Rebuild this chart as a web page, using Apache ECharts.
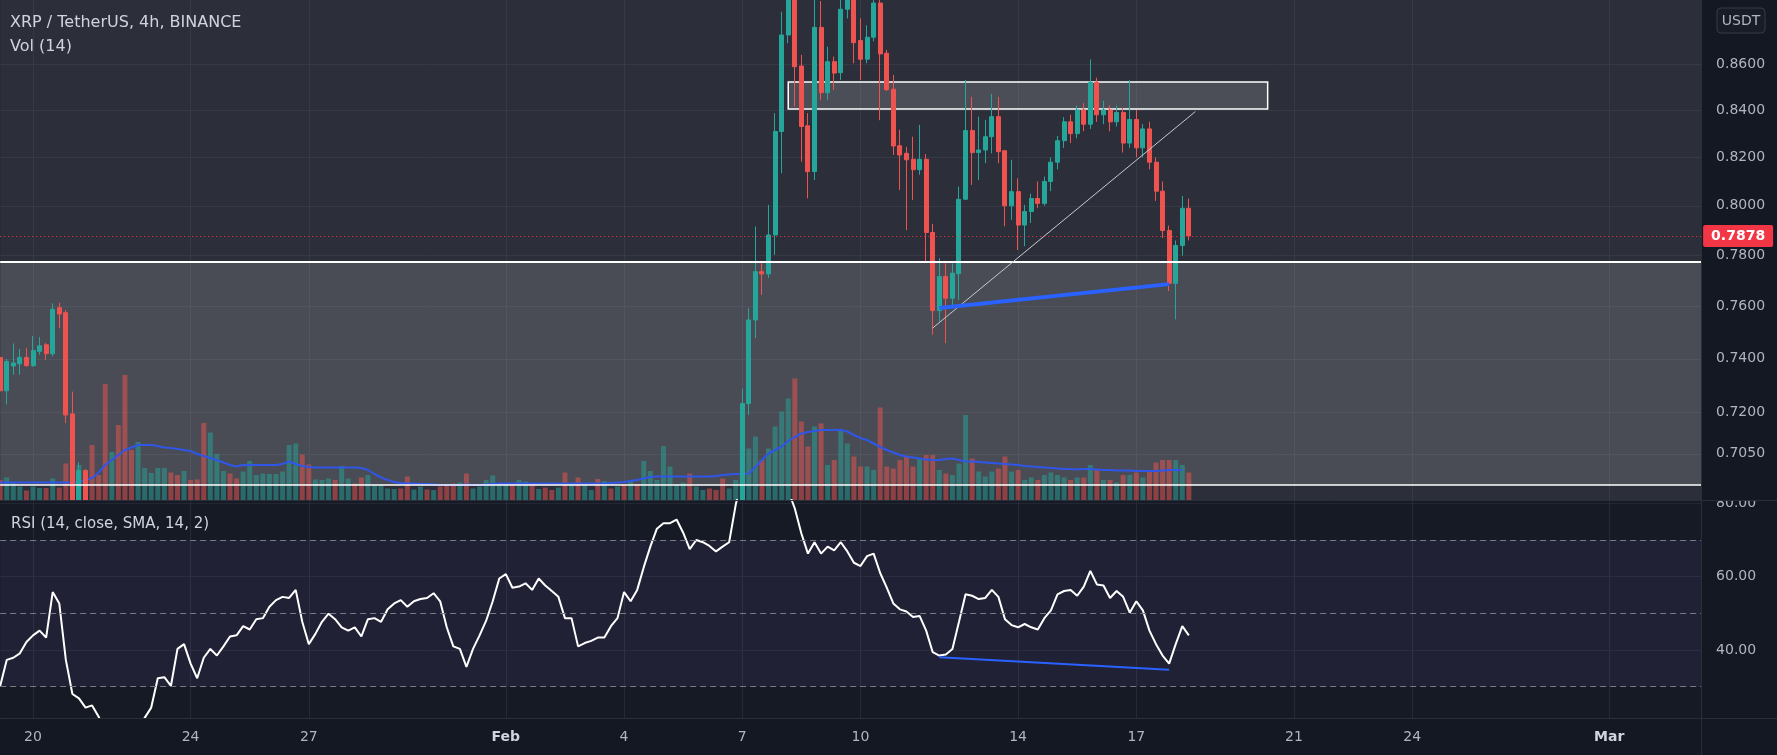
<!DOCTYPE html>
<html><head><meta charset="utf-8">
<script src="https://cdn.jsdelivr.net/npm/echarts@6/dist/echarts.min.js"></script>
<style>html,body{margin:0;padding:0;background:#141823;}#c{width:1777px;height:755px;}</style>
</head><body><div id="c"></div>
<script>
// ---------- DATA ----------
const startUTC = Date.UTC(2022, 0, 19, 4);   // first 4h slot
const slotCount = 260;
const xTickCats = ['2022-01-20 00:00','2022-01-24 00:00','2022-01-27 00:00','2022-02-01 00:00','2022-02-04 00:00','2022-02-07 00:00','2022-02-10 00:00','2022-02-14 00:00','2022-02-17 00:00','2022-02-21 00:00','2022-02-24 00:00','2022-03-01 00:00'];
const xTickLabels = ['20','24','27','Feb','4','7','10','14','17','21','24','Mar'];
const priceTicks = [0.705, 0.72, 0.74, 0.76, 0.78, 0.80, 0.82, 0.84, 0.86];
const rsiTicks = [40, 60, 80];
const priceMin = 0.6886, priceMax = 0.8885;

// [open, close, low, high]; null = candle below the visible price range
const ohlcStart = [
[0.7405,0.7280,0.7255,0.7450],[0.7280,0.7390,0.7230,0.7400],[0.7373,0.7384,0.7340,0.7458],[0.7381,0.7405,0.7340,0.7437],
[0.7405,0.7374,0.7370,0.7441],[0.7374,0.7431,0.7370,0.7486],[0.7428,0.7449,0.7415,0.7483],[0.7453,0.7419,0.7396,0.7460],
[0.7419,0.7589,0.7409,0.7612],[0.7595,0.7571,0.7516,0.7614],[0.7576,0.7191,0.7161,0.7586],[0.7195,0.6750,0.6650,0.7277],
[0.6750,0.6990,0.6700,0.7020],[0.6990,0.6700,0.6650,0.6995]];
const hiddenCount = 99; // indices 14..112
const ohlcRally = [
[0.6680,0.7233,0.6650,0.7288],[0.7233,0.7548,0.7191,0.7594],[0.7548,0.7736,0.7478,0.7916],[0.7736,0.7727,0.7645,0.7769],
[0.7727,0.7882,0.7711,0.8004],[0.7882,0.8309,0.7802,0.8387],[0.8309,0.8728,0.8134,0.8832],[0.8728,0.8950,0.8691,0.9100],
[0.8950,0.8588,0.8415,0.9050],[0.8591,0.8330,0.8182,0.8640],[0.8333,0.8141,0.8031,0.8387],[0.8141,0.8762,0.8106,0.8920],
[0.8762,0.8475,0.8444,0.8880],[0.8475,0.8610,0.8443,0.8676],[0.8610,0.8560,0.8487,0.8632],[0.8562,0.8843,0.8530,0.8890],
[0.8843,0.8930,0.8802,0.9000],[0.8930,0.8694,0.8603,0.8990],[0.8703,0.8621,0.8530,0.8802],[0.8621,0.8718,0.8603,0.8771],
[0.8718,0.8871,0.8700,0.8920],[0.8871,0.8644,0.8357,0.8900],[0.8647,0.8488,0.8482,0.8662],[0.8490,0.8248,0.8210,0.8552],
[0.8249,0.8210,0.8065,0.8316],[0.8217,0.8190,0.7902,0.8244],[0.8192,0.8149,0.8024,0.8287],[0.8149,0.8192,0.8128,0.8337],
[0.8192,0.7892,0.7775,0.8214],[0.7892,0.7584,0.7491,0.7927],[0.7584,0.7717,0.7542,0.7789],[0.7717,0.7632,0.7459,0.7769],
[0.7632,0.7730,0.7593,0.7769],[0.7728,0.8027,0.7625,0.8079],[0.8027,0.8313,0.8024,0.8530],[0.8313,0.8220,0.8086,0.8457],
[0.8220,0.8231,0.8106,0.8372],[0.8231,0.8287,0.8176,0.8358],[0.8287,0.8372,0.8217,0.8470],[0.8372,0.8224,0.8176,0.8457],
[0.8228,0.8000,0.7917,0.8228],[0.8000,0.8058,0.7943,0.8190],[0.8058,0.7922,0.7822,0.8113],[0.7922,0.7977,0.7837,0.8004],
[0.7977,0.8030,0.7930,0.8050],[0.8030,0.8010,0.7990,0.8100],[0.8010,0.8100,0.8000,0.8120],[0.8100,0.8180,0.8060,0.8200],
[0.8180,0.8270,0.8150,0.8290],[0.8270,0.8350,0.8240,0.8370],[0.8350,0.8300,0.8260,0.8380],[0.8300,0.8400,0.8280,0.8420],
[0.8400,0.8340,0.8310,0.8430],[0.8340,0.8520,0.8320,0.8620],[0.8520,0.8380,0.8350,0.8540],[0.8380,0.8400,0.8340,0.8440],
[0.8400,0.8350,0.8310,0.8420],[0.8350,0.8390,0.8330,0.8420],[0.8390,0.8260,0.8220,0.8410],[0.8260,0.8360,0.8240,0.8530],
[0.8360,0.8240,0.8200,0.8400],[0.8240,0.8320,0.8200,0.8340],[0.8320,0.8180,0.8150,0.8350],[0.8180,0.8060,0.8020,0.8200],
[0.8060,0.7900,0.7870,0.8100],[0.7900,0.7690,0.7660,0.7920],[0.7690,0.7840,0.7550,0.7860],[0.7840,0.7990,0.7800,0.8040],
[0.7990,0.7878,0.7860,0.8030]];

const volume = [40,45,35,27,19,27,24,24,43,25,73,120,70,50,110,50,232,96,150,250,100,116,64,54,64,64,55,50,58,40,41,154,135,92,58,53,43,
57,78,50,53,52,52,57,110,113,91,71,41,40,43,40,68,43,33,45,50,30,30,23,22,23,47,21,27,21,20,27,30,33,35,53,23,
27,40,49,33,30,30,40,37,32,22,25,20,25,55,30,45,30,20,42,38,23,27,30,40,32,78,58,40,108,67,31,35,53,27,20,23,20,43,23,40,
120,103,127,80,103,147,177,203,243,157,107,147,153,70,80,140,113,87,67,67,60,185,67,63,80,87,67,83,90,90,60,53,50,73,170,83,57,47,57,63,87,57,60,40,
45,40,50,55,50,45,40,45,45,70,60,40,40,35,50,50,55,45,60,75,80,80,80,70,55];
const volumeDir = [-1,1,1,1,-1,1,1,-1,1,-1,-1,-1,1,-1,-1,-1,-1,1,-1,-1,-1,1,1,1,1,1,-1,-1,1,-1,-1,-1,1,1,1,-1,-1,
1,1,1,1,1,1,1,1,1,-1,-1,1,1,1,-1,1,1,-1,-1,1,1,1,1,1,-1,-1,1,1,-1,1,-1,-1,-1,1,-1,1,
1,1,1,1,1,-1,1,1,-1,1,-1,-1,1,-1,1,-1,1,1,-1,1,-1,1,-1,1,-1,1,1,1,1,1,1,1,-1,1,1,-1,-1,-1,1,1,
1,1,1,-1,1,1,1,1,-1,-1,-1,1,-1,1,-1,1,1,-1,-1,1,1,-1,-1,-1,-1,-1,-1,1,-1,-1,1,-1,1,1,1,-1,1,1,1,-1,-1,1,-1,1,
1,-1,1,1,1,1,-1,1,-1,1,-1,1,-1,1,-1,1,-1,1,-1,-1,-1,-1,1,1,-1];
const volumeMA = [35,35,35,35,35,35,35,35,35,35,35,35,36,40,44,55,70,80,90,100,105,110,110,110,108,105,104,102,100,98,92,88,84,80,75,70,67,
70,70,70,70,70,70,72,77,72,68,66,65,65,65,65,65,65,65,64,60,52,45,40,36,34,33,33,32,32,31,30,30,30,30,31,30,
30,31,32,33,33,33,33,33,33,33,33,33,33,33,33,33,33,33,33,33,34,35,36,38,40,43,46,47,47,47,47,47,47,47,47,47,48,50,
51,52,52,53,66,80,93,100,107,118,126,133,136,138,140,140,140,140,137,130,124,120,113,106,100,95,90,87,85,83,81,80,80,82,83,80,77,77,76,75,74,73,72,71,
70,68,67,66,65,64,63,62,62,61,62,62,61,60,60,59,59,59,58,58,58,58,59,60,60,60];
const rsi = [30.2,37.3,37.9,39.1,42.2,44.0,45.3,43.4,55.8,52.7,37.3,28.0,26.8,24.3,24.9,21.8,17.8,16.3,15.6,16.3,
17.8,19.4,21.5,24.3,32.3,32.6,30.2,40.3,41.6,36.3,32.3,37.9,40.3,38.5,41.0,43.7,44.0,46.5,45.6,48.4,
48.7,51.8,53.6,54.5,54.2,56.4,47.7,41.6,44.4,47.7,49.9,48.4,46.2,45.3,46.2,43.7,48.4,48.7,47.7,51.1,
52.7,53.6,51.8,53.3,53.9,54.2,55.5,53.3,46.2,41.0,40.3,35.4,40.3,44.0,48.0,53.3,59.5,60.7,57.0,57.3,
58.2,56.4,59.5,57.6,56.1,54.5,48.7,48.7,41.0,41.9,42.5,43.4,43.4,46.5,48.7,55.8,53.3,56.4,62.6,68.2,
73.1,74.6,74.6,75.6,72.0,67.5,70.0,69.4,68.4,66.9,68.2,69.4,79.6,87.4,89,90,88,89,91,93,
83.5,78.6,71.8,66.3,69.4,66.3,68.2,67.2,69.4,66.9,63.8,62.9,65.6,66.3,61.0,57.0,52.7,51.1,50.5,49.0,
49.3,45.3,39.4,38.5,38.8,40.3,47.7,55.2,54.8,53.9,54.2,56.4,54.5,48.4,46.8,46.2,47.1,46.2,45.6,48.7,
50.8,55.2,56.1,56.4,54.8,57.3,61.6,57.9,57.6,54.2,56.1,54.5,50.2,53.3,50.8,45.3,41.6,38.5,36.3,41.6,
46.5,44.0];

const lastPrice = 0.7878;
const zoneTop = 0.7775, zoneBottom = 0.6939;          // wide grey zone
const boxTop = 0.8521, boxBottom = 0.8405, boxFrom = 120, boxTo = 193; // resistance box
const wedgeLine = [[142, 0.7517], [182, 0.8394]];
const priceTrend = [[143, 0.7594], [178, 0.7687]];
const rsiTrend = [[143, 38.0], [178, 34.6]];

// ---------- BUILD ----------
const categories = [];
for (let k = 0; k < slotCount; k++) {
  const d = new Date(startUTC + k * 4 * 3600e3);
  categories.push(d.toISOString().slice(0, 13).replace('T', ' ') + ':00');
}
const lastIdx = slotCount - 1;
const tickMap = {};
xTickCats.forEach((c, i) => tickMap[c] = xTickLabels[i]);
const isTick = (idx, val) => tickMap[val] !== undefined;

// candles are cut at the pane edges (clamped to the visible price range)
const clampP = v => Math.min(priceMax, Math.max(priceMin, v));
const ohlc = ohlcStart.concat(new Array(hiddenCount).fill(null), ohlcRally);
const candleData = ohlc.map(r => r ? r.map(clampP) : ['-', '-', '-', '-']);
const UP = '#26a69a', DOWN = '#ef5350';
const volData = volume.map((v, i) => ({ value: v, itemStyle: { color: volumeDir[i] > 0 ? 'rgba(38,166,154,0.5)' : 'rgba(239,83,80,0.5)' } }));

const FONT = 'DejaVu Sans';
const L = 0.17, R = 75.9;
const labelCol = '#b2b5be';
const gridLineCol = '#363a45';
const hLine = (v, style, label) => [{ coord: [0, v], lineStyle: style, label: label || { show: false } }, { coord: [lastIdx, v] }];

const chart = echarts.init(document.getElementById('c'), null, { renderer: 'canvas' });
chart.setOption({
  animation: false,
  backgroundColor: '#141823',
  grid: [
    { left: L, right: R, top: 0, height: 500, show: true, backgroundColor: '#2c2f3a', borderWidth: 0, outerBoundsMode: 'none' },
    { left: L, right: R, top: 300, height: 200, outerBoundsMode: 'none' },
    { left: L, right: R, top: 500, height: 218, show: true, backgroundColor: '#161a25', borderWidth: 0, outerBoundsMode: 'none' }
  ],
  xAxis: [
    { gridIndex: 0, type: 'category', data: categories, boundaryGap: false, axisLine: { show: false }, axisTick: { show: false }, axisLabel: { show: false },
      splitLine: { show: true, interval: isTick, lineStyle: { color: gridLineCol, width: 1 } } },
    { gridIndex: 1, type: 'category', data: categories, boundaryGap: false, show: false },
    { gridIndex: 2, type: 'category', data: categories, boundaryGap: false,
      axisLine: { show: false }, axisTick: { show: false },
      splitLine: { show: true, interval: isTick, lineStyle: { color: '#262a36', width: 1 } },
      axisLabel: { interval: isTick, margin: 12, color: labelCol, fontSize: 14, fontFamily: FONT,
        formatter: v => { const t = tickMap[v]; return (t === 'Feb' || t === 'Mar') ? '{b|' + t + '}' : t; },
        rich: { b: { fontWeight: 'bold', color: '#d1d4dc', fontSize: 14, fontFamily: FONT } } } }
  ],
  yAxis: [
    { gridIndex: 0, type: 'log', logBase: 10, min: priceMin, max: priceMax, position: 'right',
      axisLine: { show: false }, axisTick: { show: false, customValues: priceTicks },
      axisLabel: { customValues: priceTicks, formatter: v => Number(v).toFixed(4), color: labelCol, fontSize: 14, fontFamily: FONT, margin: 15, padding: [3, 0, 0, 0] },
      splitLine: { show: true, lineStyle: { color: gridLineCol, width: 1 } } },
    { gridIndex: 1, type: 'value', min: 0, max: 400, show: false },
    { gridIndex: 2, type: 'value', min: 21.46, max: 80.92, position: 'right',
      axisLine: { show: false }, axisTick: { show: false, customValues: rsiTicks },
      axisLabel: { customValues: rsiTicks, formatter: v => Number(v).toFixed(2), color: labelCol, fontSize: 14, fontFamily: FONT, margin: 15, padding: [3, 0, 0, 0] },
      splitLine: { show: true, lineStyle: { color: '#232733', width: 1 } } }
  ],
  series: [
    { type: 'bar', name: 'vol', xAxisIndex: 1, yAxisIndex: 1, data: volData, barWidth: 5, z: 1 },
    { type: 'line', name: 'volMA', xAxisIndex: 1, yAxisIndex: 1, data: volumeMA, symbol: 'none', z: 1,
      lineStyle: { color: '#3056e8', width: 2 } },
    { type: 'candlestick', name: 'XRPUSDT', xAxisIndex: 0, yAxisIndex: 0, data: candleData, barWidth: 4.5, clip: true, z: 3,
      itemStyle: { color: UP, color0: DOWN, borderColor: UP, borderColor0: DOWN, borderWidth: 1 },
      markArea: { silent: true,
        data: [
          [{ coord: [0, zoneTop], itemStyle: { color: 'rgba(255,255,255,0.14)' } }, { coord: [lastIdx, zoneBottom] }],
          [{ coord: [boxFrom, boxTop], itemStyle: { color: 'rgba(255,255,255,0.15)', borderColor: '#ffffff', borderWidth: 1.5 } }, { coord: [boxTo, boxBottom] }]
        ] },
      markLine: { silent: true, symbol: 'none', animation: false,
        data: [
          hLine(zoneTop, { color: '#ffffff', width: 2, type: 'solid' }),
          hLine(zoneBottom, { color: '#ffffff', width: 1.5, type: 'solid' }),
          [{ coord: wedgeLine[0], lineStyle: { color: '#c8cad0', width: 1, type: 'solid' }, label: { show: false } }, { coord: wedgeLine[1] }],
          [{ coord: priceTrend[0], lineStyle: { color: '#2962ff', width: 4, type: 'solid' }, label: { show: false } }, { coord: priceTrend[1] }],
          hLine(lastPrice, { color: '#f23645', width: 1, type: [1, 3] },
            { show: true, position: 'end', distance: 2, formatter: lastPrice.toFixed(4), backgroundColor: '#f23645', color: '#ffffff',
              padding: [4, 8, 4, 8], borderRadius: 2, fontSize: 14, fontWeight: 'bold', fontFamily: FONT })
        ] } },
    { type: 'line', name: 'RSI', xAxisIndex: 2, yAxisIndex: 2, data: rsi, symbol: 'none', clip: true, z: 3,
      lineStyle: { color: '#ffffff', width: 2 },
      markArea: { silent: true, data: [[{ coord: [0, 70], itemStyle: { color: 'rgba(126,87,194,0.11)' } }, { coord: [lastIdx, 30] }]] },
      markLine: { silent: true, symbol: 'none', animation: false,
        data: [
          hLine(70, { color: '#787b86', width: 1, type: [6, 4] }),
          hLine(50, { color: '#787b86', width: 1, type: [6, 4] }),
          hLine(30, { color: '#787b86', width: 1, type: [6, 4] }),
          [{ coord: rsiTrend[0], lineStyle: { color: '#2962ff', width: 2, type: 'solid' }, label: { show: false } }, { coord: rsiTrend[1] }]
        ] } }
  ],
  graphic: [
    { type: 'rect', z: 100, shape: { x: 1702, y: 488, width: 75, height: 12 }, style: { fill: '#141823' } },
    { type: 'line', z: 101, shape: { x1: 0, y1: 500.5, x2: 1777, y2: 500.5 }, style: { stroke: '#2a2e39', lineWidth: 1 } },
    { type: 'line', z: 101, shape: { x1: 0, y1: 718.5, x2: 1777, y2: 718.5 }, style: { stroke: '#2a2e39', lineWidth: 1 } },
    { type: 'line', z: 101, shape: { x1: 1701.5, y1: 0, x2: 1701.5, y2: 755 }, style: { stroke: '#2a2e39', lineWidth: 1 } },
    { type: 'rect', z: 101, shape: { x: 1717, y: 8, width: 48, height: 25, r: 4 }, style: { fill: '#181c27', stroke: '#363a45', lineWidth: 1 } },
    { type: 'text', z: 102, style: { x: 1741, y: 21, text: 'USDT', fill: labelCol, font: '14px "DejaVu Sans"', align: 'center', verticalAlign: 'middle' } },
    { type: 'text', z: 102, style: { x: 10, y: 23, text: 'XRP / TetherUS, 4h, BINANCE', fill: '#d1d4dc', font: '16px "DejaVu Sans"', verticalAlign: 'middle' } },
    { type: 'text', z: 102, style: { x: 10, y: 47, text: 'Vol (14)', fill: '#d1d4dc', font: '16px "DejaVu Sans"', verticalAlign: 'middle' } },
    { type: 'text', z: 102, style: { x: 11, y: 524, text: 'RSI (14, close, SMA, 14, 2)', fill: '#d1d4dc', font: '15px "DejaVu Sans"', verticalAlign: 'middle' } }
  ]
});
</script>
</body></html>
